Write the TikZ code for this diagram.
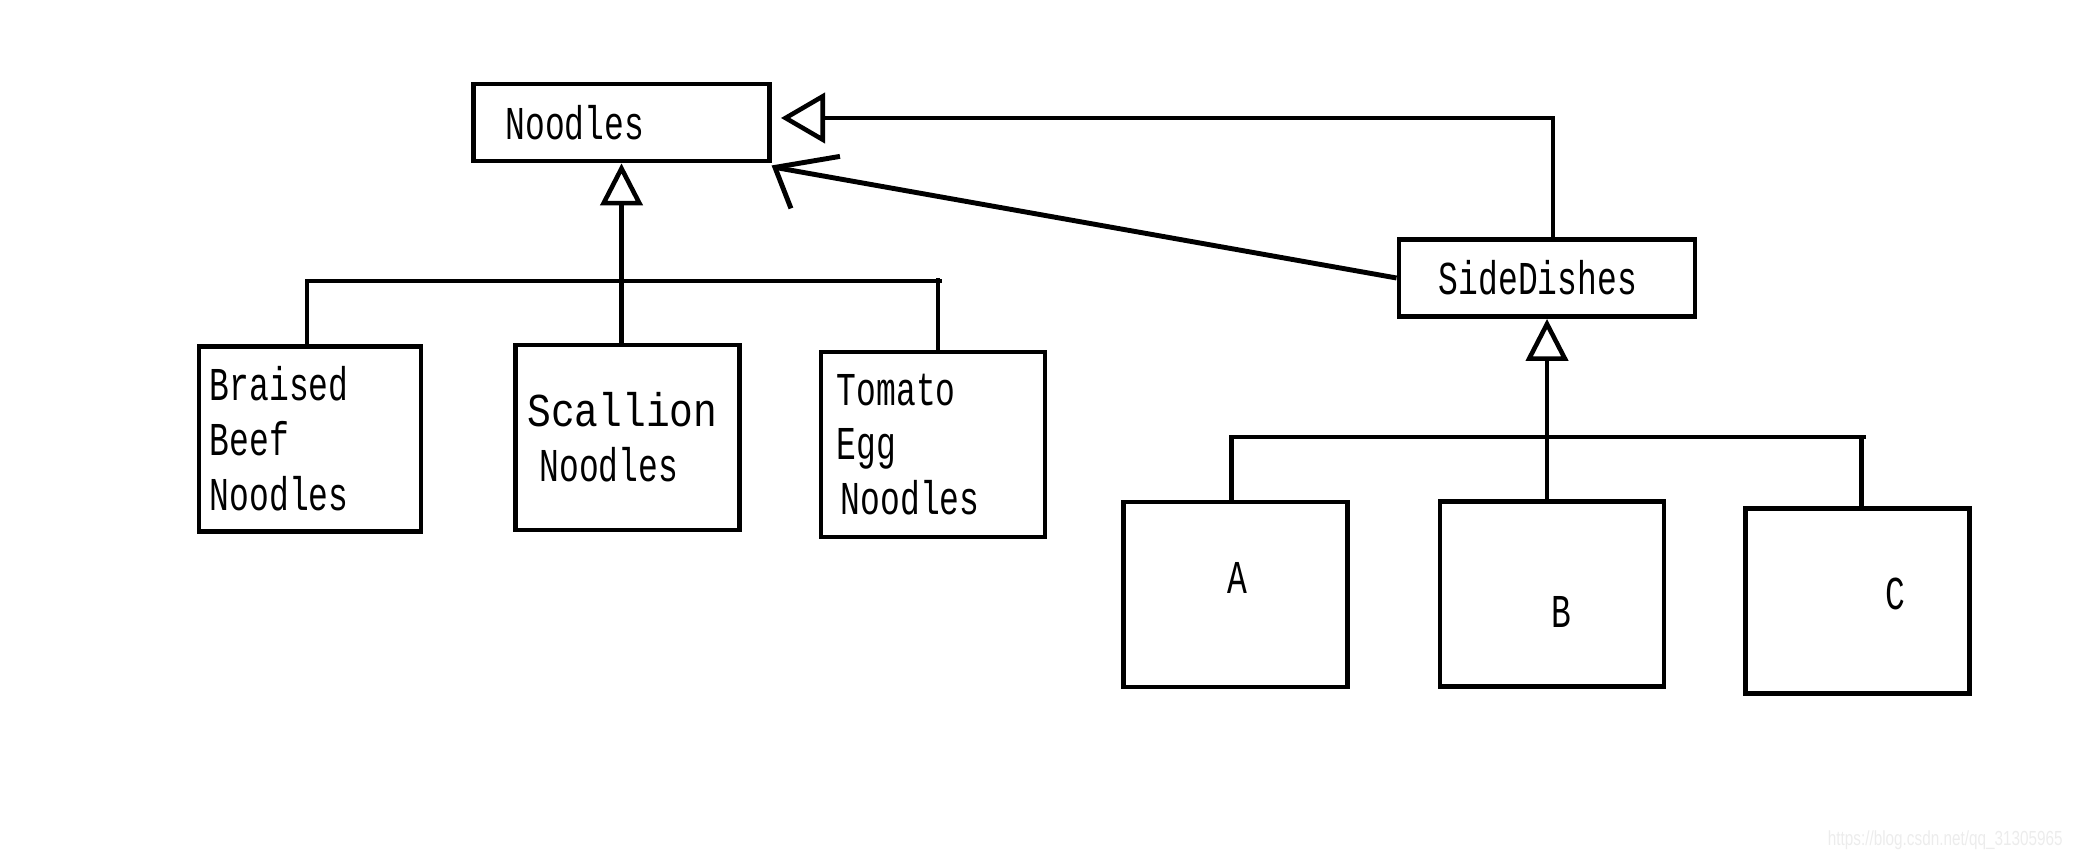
\documentclass[tikz,border=0pt]{standalone}
\usepackage{fontspec}
\newfontfamily\handfont[FakeStretch=0.7]{Liberation Mono}
\newfontfamily\wideface[FakeStretch=0.84]{Liberation Mono}
\newfontfamily\markfont[FakeStretch=0.75]{Liberation Sans}
\usetikzlibrary{positioning,arrows.meta}
\tikzstyle{box}=[draw,line width=1.35pt,align=left,inner ysep=0pt,
  font=\handfont\fontsize{13.4}{15.6}\selectfont]
\tikzstyle{classbox}=[box,minimum height=0.77cm]
\tikzstyle{leafbox}=[box,minimum height=1.85cm,text width=2cm,inner xsep=0.12cm]
\tikzstyle{letter}=[font=\handfont\fontsize{13.4}{15.6}\selectfont]
\tikzstyle{conn}=[line width=1.4pt]
\tikzstyle{inherit}=[-{Triangle[open,length=0.42cm,width=0.42cm,line width=1.3pt]}]
\tikzstyle{biginherit}=[-{Triangle[open,length=0.44cm,width=0.5cm,line width=1.3pt]}]

\begin{document}
\begin{tikzpicture}[x=0.01cm,y=-0.01cm]
    \useasboundingbox (0,0) rectangle (2083,855);

    % base classes
    \node [classbox,text width=2.32cm,inner xsep=0.32cm] (noodles)
      at (621.5,122.5) {Noodles};
    \node [classbox,text width=2.16cm,inner xsep=0.40cm] (sidedishes)
      at (1547,278) {SideDishes};

    % noodle subclasses
    \node [leafbox,inner xsep=0.11cm] (braised) at (310,439)
      {Braised\\Beef\\Noodles};
    \node [leafbox] (scallion) at (627.5,437.5)
      {{\wideface Scallion}\\\hspace*{0.12cm}Noodles};
    \node [leafbox,inner xsep=0.16cm,text width=1.92cm] (tomato) at (933,444.5)
      {Tomato\\Egg\\\hspace*{0.04cm}Noodles};

    % side dish subclasses
    \node [leafbox,label={[letter,shift={(2,-17)}]center:A}] (a)
      at (1235.5,594.5) {};
    \node [leafbox,label={[letter,shift={(9,18)}]center:B}] (b)
      at (1552,594) {};
    \node [leafbox,label={[letter,shift={(38,-7)}]center:C}] (c)
      at (1857.5,601) {};

    \coordinate (nbar) at (0,281);
    \coordinate (sbar) at (0,437);

    % noodles tree
    \draw [conn,inherit] (scallion.north -| noodles.south) -- (noodles.south);
    \draw [conn] ([xshift=-0.03cm]braised.north) |- (nbar -| 942,0);
    \draw [conn] ([xshift=0.05cm]tomato.north) -- ++(0,-72);

    % side dishes tree
    \draw [conn,inherit] (b.north -| sidedishes.south) -- (sidedishes.south);
    \draw [conn] ([xshift=-0.04cm]a.north) |- (sbar -| 1866,0);
    \draw [conn] ([xshift=0.04cm]c.north) -- ++(0,-70);

    % side dishes to noodles
    \draw [conn,biginherit,shorten >=0.09cm] ([xshift=0.06cm]sidedishes.north)
      |- ([yshift=0.045cm]noodles.east);
    \draw [conn] (sidedishes.west) -- ([shift={(3,4)}]noodles.south east)
      coordinate (tip);
    \draw [conn] ([shift={(65,-11)}]tip) -- (tip) -- ([shift={(16,41)}]tip);

    \node [font=\markfont\fontsize{5.8}{7}\selectfont,text=gray!15,anchor=east]
      (mark) at (2075,840) {https://blog.csdn.net/qq\_31305965};
  \end{tikzpicture}
\end{document}
